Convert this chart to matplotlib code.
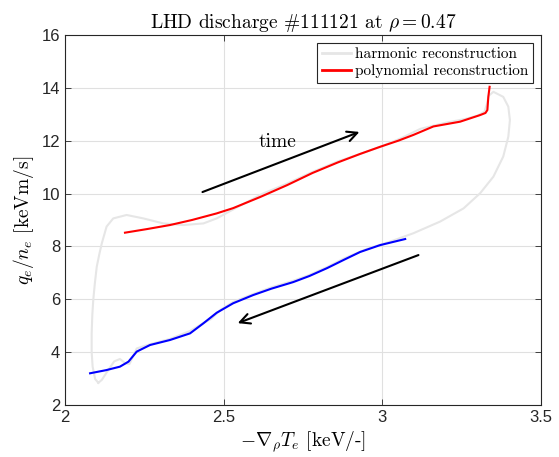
import matplotlib
matplotlib.use('Agg')
from matplotlib import pyplot as plt

# harmonic reconstruction (closed loop, light gray)
harm_x = [2.105, 2.095, 2.087, 2.084, 2.084, 2.086, 2.089, 2.094, 2.100, 2.108,
          2.116, 2.131, 2.152, 2.194, 2.247, 2.310, 2.373, 2.436, 2.478, 2.530,
          2.580, 2.620, 2.700, 2.780, 2.860, 2.930, 3.000, 3.060, 3.120, 3.200,
          3.260, 3.300, 3.322, 3.330, 3.335, 3.350, 3.381, 3.397, 3.402, 3.397,
          3.381, 3.350, 3.308, 3.256, 3.182, 3.098, 3.024, 2.950, 2.880, 2.826,
          2.770, 2.719, 2.650, 2.593, 2.530, 2.490, 2.460, 2.436, 2.394, 2.331,
          2.268, 2.226, 2.215, 2.203, 2.190, 2.173, 2.155, 2.135, 2.116, 2.105]
harm_y = [2.84, 2.98, 3.45, 4.00, 4.71, 5.40, 5.97, 6.60, 7.23, 7.70,
          8.12, 8.75, 9.06, 9.19, 9.06, 8.87, 8.81, 8.87, 9.06, 9.40,
          9.72, 9.98, 10.38, 10.82, 11.22, 11.50, 11.80, 12.10, 12.45, 12.68,
          12.82, 12.95, 13.10, 13.40, 13.70, 13.85, 13.66, 13.29, 12.78, 12.15,
          11.40, 10.64, 10.01, 9.44, 8.94, 8.50, 8.18, 7.90, 7.55, 7.22,
          6.92, 6.70, 6.45, 6.20, 5.90, 5.60, 5.25, 5.10, 4.80, 4.50,
          4.30, 4.14, 3.85, 3.55, 3.58, 3.74, 3.65, 3.30, 2.95, 2.84]

# polynomial reconstruction, rising branch (red)
up_x = [2.189, 2.260, 2.331, 2.400, 2.478, 2.530, 2.615, 2.700, 2.780, 2.860,
        2.930, 2.993, 3.050, 3.098, 3.161, 3.245, 3.308, 3.325, 3.331, 3.334, 3.338]
up_y = [8.52, 8.66, 8.81, 9.00, 9.25, 9.45, 9.87, 10.32, 10.78, 11.18,
        11.50, 11.77, 12.00, 12.22, 12.54, 12.72, 12.97, 13.05, 13.16, 13.66, 14.04]

# polynomial reconstruction, falling branch (blue)
down_x = [2.079, 2.130, 2.173, 2.200, 2.226, 2.268, 2.331, 2.394, 2.436, 2.478,
          2.530, 2.593, 2.650, 2.719, 2.770, 2.826, 2.880, 2.930, 2.993, 3.072]
down_y = [3.20, 3.32, 3.45, 3.64, 4.02, 4.27, 4.46, 4.71, 5.09, 5.49,
          5.85, 6.16, 6.40, 6.65, 6.88, 7.18, 7.50, 7.79, 8.05, 8.28]

plt.rcParams['mathtext.fontset'] = 'cm'

fig = plt.figure(figsize=(5.59, 4.57), dpi=100)
ax = fig.add_axes([0.1163, 0.1138, 0.8515, 0.8096])

ax.plot(harm_x, harm_y, color=(0.9, 0.9, 0.9), lw=1.5, label='harmonic reconstruction')
ax.plot(up_x, up_y, color='red', lw=1.5, label='polynomial reconstruction')
ax.plot(down_x, down_y, color='blue', lw=1.5)

ax.annotate('', xy=(2.936, 12.37), xytext=(2.425, 10.02),
            arrowprops=dict(arrowstyle='->', color='black', lw=1.5, mutation_scale=18))
ax.annotate('', xy=(2.536, 5.06), xytext=(3.122, 7.71),
            arrowprops=dict(arrowstyle='->', color='black', lw=1.5, mutation_scale=18))
ax.text(2.668, 11.95, 'time', ha='center', va='center', fontsize=14, fontname='cmr10')

ax.set_xlim(2, 3.5)
ax.set_ylim(2, 16)
ax.set_xticks([2, 2.5, 3, 3.5])
ax.set_xticklabels(['2', '2.5', '3', '3.5'])
ax.set_yticks(range(2, 17, 2))
ax.grid(True, color=(0.88, 0.88, 0.88), lw=0.8)
ax.set_axisbelow(True)
ax.tick_params(direction='in', top=True, right=True, labelsize=12, length=4,
               width=0.6, color=(0.15, 0.15, 0.15), labelcolor=(0.15, 0.15, 0.15))
for lab in ax.get_xticklabels() + ax.get_yticklabels():
    lab.set_fontname('Liberation Sans')
for s in ax.spines.values():
    s.set_color((0.15, 0.15, 0.15))

ax.set_title(r'LHD discharge #111121 at $\rho = 0.47$', fontsize=14, fontname='cmr10', pad=5)
ax.set_xlabel(r'$-\nabla_\rho T_e$ [keV/-]', fontsize=14, fontname='cmr10', labelpad=3)
ax.set_ylabel(r'$q_e/n_e$ [keVm/s]', fontsize=14, fontname='cmr10', labelpad=4)

leg = ax.legend(loc='upper right', prop={'family': 'cmr10', 'size': 11}, fancybox=False,
                framealpha=1, edgecolor=(0.15, 0.15, 0.15), borderpad=0.3,
                handlelength=1.9, handletextpad=0.3, labelspacing=0.2,
                borderaxespad=0.5)
leg.get_frame().set_linewidth(0.8)
for line in leg.get_lines():
    line.set_linewidth(2)

fig.savefig('out.png', dpi=100)
